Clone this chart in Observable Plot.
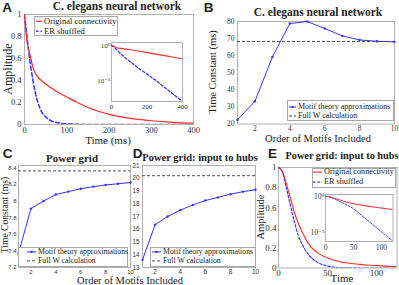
<!DOCTYPE html>
<html>
<head>
<meta charset="utf-8">
<script src="https://cdn.jsdelivr.net/npm/d3@7"></script>
<script src="https://cdn.jsdelivr.net/npm/@observablehq/plot@0.6"></script>
<style>
  html, body { margin: 0; padding: 0; background: #fff; }
  #fig { position: relative; width: 399px; height: 285px; background: #fff; overflow: hidden; }
  .t { position: absolute; white-space: nowrap; transform: translate(-50%, -50%); color: #222; line-height: 1; }
  .lg { position: absolute; background: #fff; border: 1px solid #a8a8a8; box-sizing: border-box; font-family: "Liberation Serif", serif; color: #222; }
  .lg .row { position: absolute; left: 0; display: flex; align-items: center; white-space: nowrap; line-height: 1; }
</style>
</head>
<body>
<div id="fig"></div>
<script>
// ---------- data ----------
// Panel A: C. elegans, amplitude vs time (ms)
const timeOrigA = [0, 5, 10, 15, 20, 25, 30, 40, 60, 80, 100, 125, 150, 175, 200, 250, 300, 350, 400];
const ampOrigA  = [1, 0.78, 0.68, 0.6, 0.52, 0.47, 0.44, 0.4, 0.34, 0.29, 0.25, 0.2, 0.155, 0.12, 0.092, 0.055, 0.034, 0.02, 0.012];
const timeErA   = [0, 5, 10, 15, 20, 25, 30, 40, 50, 60, 80, 100, 150, 200, 250, 300, 350, 400];
const ampErA    = [1, 0.83, 0.66, 0.52, 0.4, 0.3, 0.22, 0.12, 0.07, 0.04, 0.015, 0.006, 6e-4, 8e-5, 1e-5, 1e-6, 1e-7, 1e-8];

// Panel B: C. elegans, time constant vs motif order
const orderB = [1, 2, 3, 4, 5, 6, 7, 8, 9, 10];
const tauB   = [22.5, 33.3, 59.2, 78.8, 80, 75.9, 71.6, 69.2, 68.4, 68.1];
const fullB  = 68.3;

// Panel C: power grid
const orderC = [1, 2, 3, 4, 5, 6, 7, 8, 9, 10];
const tauC   = [7.37, 7.91, 8.0, 8.08, 8.115, 8.15, 8.175, 8.195, 8.21, 8.225];
const fullC  = 8.365;

// Panel D: power grid, input to hubs
const orderD = [1, 2, 3, 4, 5, 6, 7, 8, 9, 10];
const tauD   = [13.6, 16.35, 17.0, 17.5, 17.9, 18.25, 18.5, 18.75, 18.95, 19.1];
const fullD  = 20.2;

// Panel E: power grid input to hubs, amplitude vs time
const timeE    = [0, 4, 8, 12, 16, 20, 25, 30, 35, 40, 50, 60, 70, 80, 90, 100, 110, 120];
const ampOrigE = [1, 0.96, 0.84, 0.7, 0.56, 0.45, 0.34, 0.25, 0.19, 0.15, 0.1, 0.07, 0.05, 0.04, 0.03, 0.024, 0.019, 0.015];
const ampErE   = [1, 0.95, 0.8, 0.63, 0.47, 0.33, 0.22, 0.14, 0.09, 0.055, 0.02, 0.0046, 0.001, 2.3e-4, 5.4e-5, 1.2e-5, 2.8e-6, 6.3e-7];

// tick values
const ticksTimeA = [0, 100, 200, 300, 400];
const ticksAmp = [0, 0.2, 0.4, 0.6, 0.8, 1];
const ticksOrder = [2, 4, 6, 8, 10];
const ticksB = [20, 30, 40, 50, 60, 70, 80];
const ticksC = [7.2, 7.4, 7.6, 7.8, 8, 8.2, 8.4];
const ticksD = [13, 14, 15, 16, 17, 18, 19, 20, 21];
const ticksTimeE = [0, 50, 100];
const ticksInsetA = [0, 200, 400];
const ticksLog = [1e-5, 1];

// ---------- helpers ----------
const RED = "#ff2a2a", BLUE = "#3434ff", FRAME = "#b0b0b0";
const SERIF = "'Liberation Serif', 'DejaVu Serif', serif";
const SANS = "'Liberation Sans', Arial, sans-serif";
const fig = document.getElementById("fig");
const zip2 = (xs, ys) => xs.map((x, i) => ({x, y: ys[i]}));
const fmt = d => String(d);
const logFmt = d => d === 1 ? "10\u2070" : "10\u207B\u2075";

function panel(o) {
  const w = o.x1 - o.x0 + o.ml + o.mr, h = o.y1 - o.y0 + o.mt + o.mb;
  const svg = Plot.plot({
    width: w, height: h,
    marginLeft: o.ml, marginRight: o.mr, marginTop: o.mt, marginBottom: o.mb,
    style: {fontFamily: o.font, fontSize: o.fs + "px", color: "#333", background: "none", overflow: "visible"},
    x: Object.assign({tickSize: 0, tickPadding: o.xpad ?? 3, label: null}, o.x),
    y: Object.assign({tickSize: 0, tickPadding: o.ypad ?? 3, label: null}, o.y),
    marks: o.marks
  });
  svg.style.position = "absolute";
  svg.style.left = (o.x0 - o.ml) + "px";
  svg.style.top = (o.y0 - o.mt) + "px";
  fig.appendChild(svg);
}

function text(s, x, y, size, opts = {}) {
  const d = document.createElement("div");
  d.className = "t";
  d.textContent = s;
  d.style.left = x + "px";
  d.style.top = y + "px";
  d.style.fontSize = size + "px";
  d.style.fontFamily = opts.family || SERIF;
  d.style.fontWeight = opts.bold ? "bold" : "normal";
  if (opts.lh) d.style.lineHeight = opts.lh;
  if (opts.rotate) d.style.transform = "translate(-50%, -50%) rotate(-90deg)";
  fig.appendChild(d);
}

function legend(x, y, w, h, items, size, sampleLeft, textLeft) {
  const d = document.createElement("div");
  d.className = "lg";
  Object.assign(d.style, {left: x + "px", top: y + "px", width: w + "px", height: h + "px", fontSize: size + "px"});
  items.forEach((it) => {
    const row = document.createElement("div");
    row.className = "row";
    row.style.top = (it.cy - y - size / 2 - 1) + "px";
    row.style.height = size + "px";
    const sw = textLeft - sampleLeft - 1;
    row.innerHTML = `<svg width="${textLeft - x}" height="${size}" style="flex:none">
      <line x1="${sampleLeft - x - 1}" x2="${sampleLeft - x - 1 + sw}" y1="${size / 2}" y2="${size / 2}" stroke="${it.color}" stroke-width="${it.width || 1}" ${it.dash ? `stroke-dasharray="${it.dash}"` : ""}/>
      ${it.marker ? `<circle cx="${sampleLeft - x - 1 + sw / 2}" cy="${size / 2}" r="1.2" fill="${it.color}"/>` : ""}
    </svg><span>${it.label}</span>`;
    d.appendChild(row);
  });
  fig.appendChild(d);
}

// ---------- Panel A ----------
const origA = zip2(timeOrigA, ampOrigA);
const erA = zip2(timeErA, ampErA);
panel({
  x0: 24, x1: 193, y0: 14, y1: 124, ml: 24, mr: 6, mt: 8, mb: 12, font: SERIF, fs: 8.5, xpad: 2,
  x: {domain: [0, 400], ticks: ticksTimeA, tickFormat: fmt},
  y: {domain: [0, 1], ticks: ticksAmp, tickFormat: fmt},
  marks: [
    Plot.frame({stroke: FRAME}),
    Plot.line(erA, {x: "x", y: "y", stroke: BLUE, strokeWidth: 1.5, strokeDasharray: "4,2.5", curve: "monotone-x", clip: true}),
    Plot.line(origA, {x: "x", y: "y", stroke: RED, strokeWidth: 1.2, curve: "monotone-x", clip: true})
  ]
});
// inset A
panel({
  x0: 111, x1: 182, y0: 42, y1: 101, ml: 14, mr: 8, mt: 4, mb: 10, font: SERIF, fs: 7,
  x: {domain: [0, 400], ticks: ticksInsetA, tickFormat: fmt},
  y: {type: "log", domain: [1e-8, Math.pow(10, 0.4)], ticks: ticksLog, tickFormat: logFmt, tickPadding: 1},
  marks: [
    Plot.frame({fill: "white", stroke: FRAME}),
    Plot.line(erA, {x: "x", y: "y", stroke: BLUE, strokeWidth: 1.3, strokeDasharray: "2.5,2", clip: true}),
    Plot.line(origA.filter(d => d.x === 0 || d.x >= 30), {x: "x", y: "y", stroke: RED, strokeWidth: 1.1, clip: true})
  ]
});
legend(34, 16, 84, 20, [
  {label: "Original connectivity", color: RED, cy: 21.5, width: 1.2},
  {label: "ER shuffled", color: BLUE, cy: 31, width: 1.4, dash: "2.5,2"}
], 8.5, 36, 43);
text("A", 7, 7.5, 13.5, {family: SANS, bold: true});
text("C. elegans neural network", 117, 6.5, 11.5, {bold: true});
text("Time (ms)", 108, 139.5, 11);
text("Amplitude", 8, 69, 12, {rotate: true});

// ---------- Panel B ----------
const dataB = zip2(orderB, tauB);
panel({
  x0: 237, x1: 394, y0: 20.5, y1: 123, ml: 24, mr: 5, mt: 6, mb: 11, font: SERIF, fs: 7.5, xpad: 2,
  x: {domain: [1, 10], ticks: ticksOrder, tickFormat: fmt},
  y: {domain: [20, 80], ticks: ticksB, tickFormat: fmt},
  marks: [
    Plot.frame({stroke: FRAME}),
    Plot.ruleY([fullB], {stroke: "#222", strokeWidth: 0.8, strokeDasharray: "3,2"}),
    Plot.line(dataB, {x: "x", y: "y", stroke: BLUE, strokeWidth: 1}),
    Plot.dot(dataB, {x: "x", y: "y", r: 1.2, fill: BLUE, stroke: "none"})
  ]
});
legend(287, 100, 107, 21, [
  {label: "Motif theory approximations", color: BLUE, cy: 106.5, width: 1, marker: true},
  {label: "Full W calculation", color: "#222", cy: 115.5, width: 0.8, dash: "3,2"}
], 8, 289, 297);
text("B", 208.5, 7.5, 13.5, {family: SANS, bold: true});
text("C. elegans neural network", 318, 13, 11.5, {bold: true});
text("Order of Motifs Included", 318, 138.5, 10.5);
text("Time Constant (ms)", 213, 72, 10.5, {rotate: true});

// ---------- Panel C ----------
const dataC = zip2(orderC, tauC);
panel({
  x0: 17.5, x1: 129.5, y0: 165, y1: 267, ml: 17, mr: 4, mt: 4, mb: 9, font: SANS, fs: 6, xpad: 2, ypad: 2,
  x: {domain: [1, 10], ticks: ticksOrder, tickFormat: fmt},
  y: {domain: [7.2, 8.43], ticks: ticksC, tickFormat: fmt},
  marks: [
    Plot.frame({stroke: FRAME}),
    Plot.ruleY([fullC], {stroke: "#222", strokeWidth: 0.8, strokeDasharray: "3,2"}),
    Plot.line(dataC, {x: "x", y: "y", stroke: BLUE, strokeWidth: 1}),
    Plot.dot(dataC, {x: "x", y: "y", r: 1.2, fill: BLUE, stroke: "none"})
  ]
});
legend(18, 247, 110, 20, [
  {label: "Motif theory approximations", color: BLUE, cy: 251.5, width: 1, marker: true},
  {label: "Full W calculation", color: "#222", cy: 260.5, width: 0.8, dash: "3,2"}
], 7.8, 27, 37);
text("C", 7.5, 154, 13.5, {family: SANS, bold: true});
text("Power grid", 72, 157.5, 11, {bold: true});
text("Time Constant (ms)", 5, 215, 9.6, {rotate: true, lh: 0.95});
text("Order of Motifs Included", 130, 280.5, 10.5);

// ---------- Panel D ----------
const dataD = zip2(orderD, tauD);
panel({
  x0: 142, x1: 255, y0: 165, y1: 267, ml: 14, mr: 4, mt: 4, mb: 9, font: SANS, fs: 6.3, xpad: 2,
  x: {domain: [1, 10], ticks: ticksOrder, tickFormat: fmt},
  y: {domain: [13, 21], ticks: ticksD, tickFormat: fmt},
  marks: [
    Plot.frame({stroke: FRAME}),
    Plot.ruleY([fullD], {stroke: "#222", strokeWidth: 0.8, strokeDasharray: "3,2"}),
    Plot.line(dataD, {x: "x", y: "y", stroke: BLUE, strokeWidth: 1}),
    Plot.dot(dataD, {x: "x", y: "y", r: 1.2, fill: BLUE, stroke: "none"})
  ]
});
legend(150, 247, 106, 20, [
  {label: "Motif theory approximations", color: BLUE, cy: 251.5, width: 1, marker: true},
  {label: "Full W calculation", color: "#222", cy: 260.5, width: 0.8, dash: "3,2"}
], 7.8, 152, 162);
text("D", 137.5, 154, 13.5, {family: SANS, bold: true});
text("Power grid: input to hubs", 200, 157.5, 10.5, {bold: true});

// ---------- Panel E ----------
const origE = zip2(timeE, ampOrigE);
const erE = zip2(timeE, ampErE);
text("Amplitude", 261, 217, 10.5, {rotate: true});
panel({
  x0: 277.5, x1: 396, y0: 166.5, y1: 267, ml: 16, mr: 3, mt: 4, mb: 11, font: SERIF, fs: 9, xpad: 2,
  x: {domain: [0, 121], ticks: ticksTimeE, tickFormat: fmt},
  y: {domain: [0, 1], ticks: ticksAmp, tickFormat: fmt, tickPadding: 2},
  marks: [
    Plot.frame({stroke: FRAME}),
    Plot.line(erE, {x: "x", y: "y", stroke: BLUE, strokeWidth: 1.2, strokeDasharray: "2.5,1.8", curve: "monotone-x", clip: true}),
    Plot.line(origE, {x: "x", y: "y", stroke: RED, strokeWidth: 1.1, curve: "monotone-x", clip: true})
  ]
});
// inset E
panel({
  x0: 325, x1: 392.5, y0: 194, y1: 241, ml: 14, mr: 4, mt: 4, mb: 10, font: SERIF, fs: 7.5,
  x: {domain: [0, 121], ticks: ticksTimeE, tickFormat: fmt},
  y: {type: "log", domain: [Math.pow(10, -6.3), Math.pow(10, 0.28)], ticks: ticksLog, tickFormat: logFmt, tickPadding: 1},
  marks: [
    Plot.frame({fill: "white", stroke: FRAME}),
    Plot.line(erE, {x: "x", y: "y", stroke: BLUE, strokeWidth: 1, strokeDasharray: "2,1.5", curve: "monotone-x", clip: true}),
    Plot.line(origE, {x: "x", y: "y", stroke: RED, strokeWidth: 1, curve: "monotone-x", clip: true})
  ]
});
legend(312, 168, 84, 19.5, [
  {label: "Original connectivity", color: RED, cy: 172.5, width: 1.1},
  {label: "ER shuffled", color: BLUE, cy: 182, width: 1.2, dash: "2.5,1.8"}
], 8.2, 313, 323);
text("E", 272.5, 154, 13.5, {family: SANS, bold: true});
text("Power grid: input to hubs", 342, 156, 10.3, {bold: true});
text("Time", 342, 278, 11);
</script>
</body>
</html>
